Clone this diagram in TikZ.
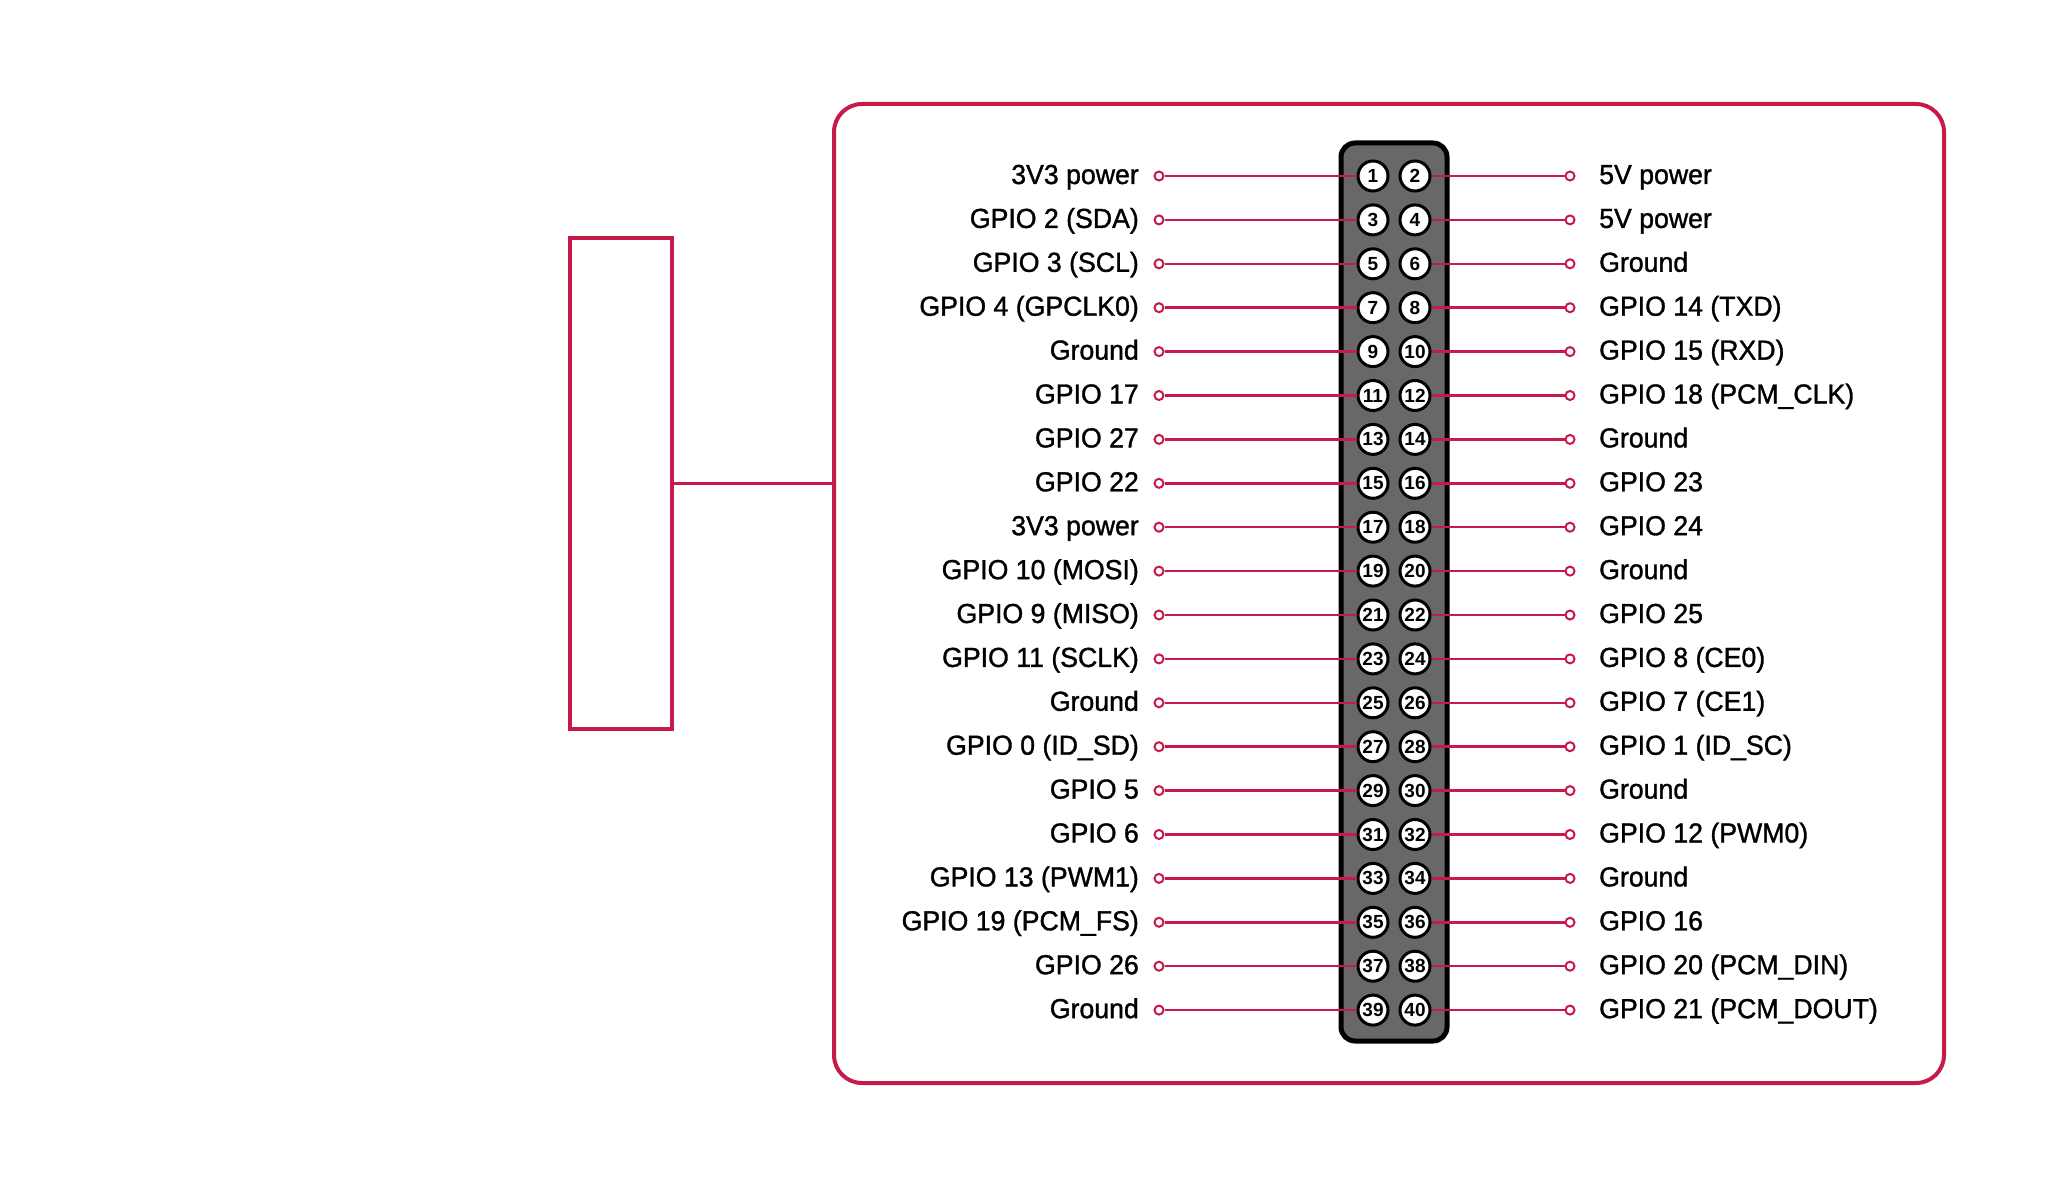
\documentclass[tikz,border=0pt]{standalone}
\usepackage{fontspec}
\setmainfont[FakeStretch=0.97,FakeBold=1.2]{Liberation Sans}
\newfontfamily\pinfont{Liberation Sans}
\definecolor{rpi}{RGB}{197,26,74}
\definecolor{hdr}{RGB}{104,104,104}
\begin{document}
\begin{tikzpicture}[x=1pt,y=-1pt,
  board/.style={draw=rpi,line width=4pt,rounded corners=28pt,inner sep=0pt,minimum width=1110pt,minimum height=979pt},
  sidebox/.style={draw=rpi,line width=3.5pt,inner sep=0pt,minimum width=102pt,minimum height=491pt},
  header/.style={draw=black,fill=hdr,line width=5pt,rounded corners=14pt,inner sep=0pt,minimum width=106pt,minimum height=898pt},
  pin/.style={circle,draw=black,fill=white,line width=3pt,minimum size=30pt,inner sep=0pt,font=\pinfont\bfseries\fontsize{19}{19}\selectfont},
  term/.style={circle,draw=rpi,fill=white,line width=2pt,minimum size=9pt,inner sep=0pt},
  wire/.style={draw=rpi,line width=2.5pt},
  lab/.style={inner sep=0pt,font=\fontsize{27.5}{32}\selectfont}
]
\useasboundingbox (0,0) rectangle (2064,1185);
\node[board] (board) at (1389,593.5) {};
\node[sidebox] (box) at (621,483.5) {};
\draw[rpi,line width=3.5pt] (box.east) -- (box.east -| board.west);
\node[header] (hdr) at (1394,592) {};
\foreach \i/\a/\b in {
 0/3V3 power/5V power,
 1/GPIO 2 (SDA)/5V power,
 2/GPIO 3 (SCL)/Ground,
 3/GPIO 4 (GPCLK0)/GPIO 14 (TXD),
 4/Ground/GPIO 15 (RXD),
 5/GPIO 17/GPIO 18 (PCM\_CLK),
 6/GPIO 27/Ground,
 7/GPIO 22/GPIO 23,
 8/3V3 power/GPIO 24,
 9/GPIO 10 (MOSI)/Ground,
 10/GPIO 9 (MISO)/GPIO 25,
 11/GPIO 11 (SCLK)/GPIO 8 (CE0),
 12/Ground/GPIO 7 (CE1),
 13/GPIO 0 (ID\_SD)/GPIO 1 (ID\_SC),
 14/GPIO 5/Ground,
 15/GPIO 6/GPIO 12 (PWM0),
 16/GPIO 13 (PWM1)/Ground,
 17/GPIO 19 (PCM\_FS)/GPIO 16,
 18/GPIO 26/GPIO 20 (PCM\_DIN),
 19/Ground/GPIO 21 (PCM\_DOUT)}{
  \pgfmathsetmacro{\yy}{176+43.9*\i}
  \pgfmathtruncatemacro{\na}{2*\i+1}
  \pgfmathtruncatemacro{\nb}{2*\i+2}
  \node[pin] (p\na) at (1373,\yy) {\na};
  \node[pin] (p\nb) at (1415,\yy) {\nb};
  \node[term] (t\na) at (1159,\yy) {};
  \node[term] (t\nb) at (1570,\yy) {};
  \draw[wire] (t\na) -- (p\na);
  \draw[wire] (t\nb) -- (p\nb);
  \node[lab,anchor=base east] (l\na) at (1139,\yy+8) {\a};
  \node[lab,anchor=base west] (l\nb) at (1599,\yy+8) {\b};
}
\end{tikzpicture}
\end{document}
